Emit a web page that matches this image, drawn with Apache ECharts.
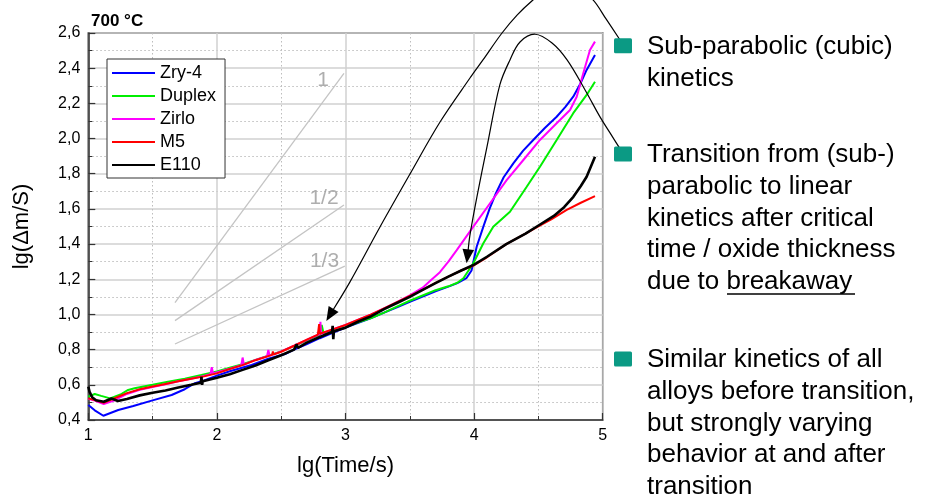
<!DOCTYPE html>
<html><head><meta charset="utf-8">
<script src="https://cdn.jsdelivr.net/npm/echarts@6/dist/echarts.min.js"></script>
<style>html,body{margin:0;padding:0;background:#fff}#c{width:925px;height:501px}</style>
</head><body><div id="c"></div>
<script>
const FONT = "'Liberation Sans', Arial, sans-serif";

// ---- data (lg(Time/s), lg(Δm/S)) ----
const seriesNames = ['Zry-4', 'Duplex', 'Zirlo', 'M5', 'E110'];
const zry4 = [[1.0,0.485],[1.05,0.455],[1.117,0.424],[1.233,0.457],[1.35,0.48],[1.493,0.51],[1.648,0.542],[1.75,0.575],[1.83,0.609],[1.9,0.625],[2.0,0.652],[2.1,0.677],[2.27,0.713],[2.4,0.748],[2.53,0.775],[2.6,0.8],[2.7,0.832],[2.8,0.865],[2.9,0.895],[3.0,0.925],[3.1,0.952],[3.2,0.98],[3.3,1.01],[3.4,1.04],[3.5,1.072],[3.6,1.102],[3.7,1.132],[3.8,1.158],[3.87,1.178],[3.94,1.206],[3.98,1.25],[4.02,1.385],[4.072,1.499],[4.12,1.6],[4.17,1.69],[4.23,1.78],[4.305,1.859],[4.38,1.93],[4.46,1.992],[4.55,2.06],[4.642,2.124],[4.71,2.18],[4.771,2.238],[4.825,2.31],[4.875,2.39],[4.94,2.475]];
const duplex = [[1.0,0.532],[1.05,0.548],[1.1,0.537],[1.17,0.523],[1.25,0.545],[1.31,0.571],[1.36,0.58],[1.42,0.589],[1.5,0.6],[1.62,0.618],[1.75,0.635],[1.88,0.656],[2.0,0.676],[2.1,0.697],[2.2,0.717],[2.3,0.742],[2.4,0.766],[2.5,0.79],[2.6,0.82],[2.7,0.853],[2.8,0.885],[2.815,0.94],[2.83,0.89],[2.9,0.905],[3.0,0.928],[3.1,0.955],[3.2,0.98],[3.3,1.01],[3.4,1.045],[3.5,1.078],[3.6,1.108],[3.7,1.138],[3.8,1.16],[3.87,1.18],[3.917,1.206],[3.994,1.291],[4.072,1.405],[4.149,1.499],[4.279,1.584],[4.409,1.726],[4.512,1.84],[4.642,1.992],[4.771,2.144],[4.875,2.248],[4.94,2.323]];
const zirlo = [[1.0,0.52],[1.05,0.51],[1.12,0.49],[1.2,0.51],[1.3,0.548],[1.4,0.572],[1.5,0.588],[1.6,0.603],[1.7,0.62],[1.8,0.635],[1.9,0.65],[1.95,0.66],[1.96,0.70],[1.97,0.665],[2.1,0.692],[2.19,0.712],[2.2,0.755],[2.21,0.715],[2.3,0.742],[2.39,0.762],[2.4,0.798],[2.41,0.766],[2.5,0.79],[2.6,0.822],[2.7,0.856],[2.8,0.888],[2.805,0.958],[2.81,0.89],[2.9,0.915],[3.0,0.94],[3.1,0.97],[3.2,1.0],[3.3,1.035],[3.4,1.07],[3.5,1.108],[3.6,1.152],[3.657,1.19],[3.734,1.24],[3.8,1.3],[3.865,1.366],[3.994,1.499],[4.124,1.632],[4.253,1.764],[4.383,1.878],[4.512,1.992],[4.642,2.087],[4.746,2.162],[4.798,2.238],[4.849,2.371],[4.901,2.503],[4.94,2.551]];
const m5 = [[1.0,0.523],[1.05,0.514],[1.12,0.498],[1.2,0.522],[1.3,0.553],[1.4,0.575],[1.5,0.59],[1.6,0.605],[1.7,0.62],[1.8,0.635],[1.9,0.648],[2.0,0.665],[2.1,0.69],[2.2,0.712],[2.3,0.74],[2.43,0.77],[2.435,0.79],[2.44,0.772],[2.5,0.788],[2.6,0.822],[2.7,0.857],[2.785,0.885],[2.795,0.945],[2.8,0.89],[2.9,0.915],[3.0,0.94],[3.1,0.97],[3.2,1.0],[3.3,1.035],[3.4,1.07],[3.5,1.105],[3.6,1.14],[3.7,1.18],[3.8,1.215],[3.9,1.25],[4.0,1.28],[4.1,1.325],[4.25,1.4],[4.4,1.46],[4.51,1.505],[4.6,1.54],[4.72,1.594],[4.83,1.635],[4.94,1.673]];
const e110 = [[1.0,0.59],[1.01,0.56],[1.03,0.53],[1.06,0.512],[1.12,0.504],[1.18,0.522],[1.23,0.508],[1.3,0.52],[1.4,0.54],[1.5,0.555],[1.6,0.568],[1.7,0.585],[1.8,0.6],[1.875,0.612],[1.88,0.645],[1.885,0.6],[1.89,0.62],[2.0,0.64],[2.1,0.66],[2.2,0.685],[2.3,0.71],[2.4,0.74],[2.5,0.768],[2.6,0.8],[2.61,0.79],[2.62,0.83],[2.63,0.81],[2.7,0.84],[2.8,0.872],[2.895,0.9],[2.9,0.935],[2.905,0.86],[2.91,0.905],[3.0,0.925],[3.1,0.96],[3.2,0.99],[3.3,1.03],[3.4,1.065],[3.5,1.1],[3.6,1.14],[3.7,1.178],[3.8,1.215],[3.9,1.25],[4.0,1.283],[4.1,1.328],[4.25,1.4],[4.4,1.46],[4.51,1.51],[4.62,1.56],[4.7,1.61],[4.772,1.669],[4.83,1.73],[4.875,1.783],[4.94,1.897]];
const seriesData = [zry4, duplex, zirlo, m5, e110];

// reference slopes
const slope1 = [[1.674,1.067],[2.988,2.371]];
const slopeHalf = [[1.674,0.965],[2.988,1.622]];
const slopeThird = [[1.674,0.832],[2.995,1.275]];
const slopeLabels = [[2.825,2.333,'1'],[2.833,1.662,'1/2'],[2.837,1.304,'1/3']];

// annotation arrows (data coordinates, from bullet to arrow tip)
const arrow1 = [[5.135,2.56],[5.026,2.68],[4.925,2.788],[4.823,2.844],[4.691,2.873],[4.559,2.844],[4.458,2.788],[4.334,2.702],[4.217,2.6],[4.069,2.447],[3.968,2.344],[3.735,2.094],[3.502,1.799],[3.268,1.497],[3.035,1.185],[2.851,0.963]];
const arrow2 = [[5.15,1.924],[5.057,2.032],[4.979,2.123],[4.863,2.276],[4.723,2.447],[4.606,2.543],[4.474,2.593],[4.357,2.549],[4.279,2.447],[4.2,2.305],[4.1,1.952],[4.022,1.668],[3.968,1.452],[3.942,1.291]];

const yTicks = {min:0.4, max:2.6, interval:0.2};
const xTicks = {min:1, max:5, interval:1};

const bulletTexts = [
  ['Sub-parabolic (cubic)', 'kinetics'],
  ['Transition from (sub-)', 'parabolic to linear', 'kinetics after critical', 'time / oxide thickness', 'due to breakaway'],
  ['Similar kinetics of all', 'alloys before transition,', 'but strongly varying', 'behavior at and after', 'transition']
];

// ---- styles ----
const colors = ['#0000ff', '#00ee00', '#ff00ff', '#ff0000', '#000000'];
const widths = [2, 2, 2, 2, 2.6];
const bulletBaselines = [55, 163.3, 368.3];
const LH = 31.7;

const chart = echarts.init(document.getElementById('c'), null, {renderer:'canvas'});

const series = seriesNames.map((n, i) => ({
  name: n, type: 'line', data: seriesData[i], symbol: 'none', showSymbol: false,
  lineStyle: {color: colors[i], width: widths[i]}, itemStyle: {color: colors[i]},
  z: 3 + i, silent: true, animation: false
}));
[slope1, slopeHalf, slopeThird].forEach(d => series.unshift({
  type: 'line', data: d, symbol: 'none', lineStyle: {color: '#c4c4c4', width: 1.3}, silent: true, z: 2, animation: false
}));
series.push({
  type: 'scatter', data: slopeLabels, symbolSize: 2, itemStyle: {color: 'rgba(255,255,255,0)'}, silent: true, animation: false, z: 2,
  label: {show: true, position: 'inside', formatter: p => p.value[2], color: '#9a9a9a', fontSize: 21, fontFamily: FONT}
});

const axisCommon = {
  axisLine: {show: true, lineStyle: {color: '#333', width: 1.5}},
  axisTick: {show: true, inside: true, length: 7, lineStyle: {color: '#333', width: 1.2}},
  minorTick: {show: true, splitNumber: 2, length: 4, lineStyle: {color: '#333', width: 1}},
  splitLine: {show: true, lineStyle: {color: '#d0d0d0', width: 1.5}},
  minorSplitLine: {show: true, lineStyle: {color: '#bdbdbd', width: 1, type: [1.5, 2.5]}},
};

chart.setOption({
  animation: false,
  backgroundColor: '#fff',
  title: {text: '700 °C', left: 91, top: 13, padding: 0, textStyle: {fontSize: 17, fontWeight: 'bold', fontFamily: FONT, color: '#000'}},
  grid: {left: 88.3, top: 33, right: 322.3, bottom: 81, show: true, borderColor: '#333', borderWidth: 1.5, containLabel: false},
  legend: {
    data: seriesNames, orient: 'vertical', left: 107, top: 59, icon: 'rect', itemWidth: 43, itemHeight: 2, itemGap: 5,
    padding: [5, 9, 4, 5], borderColor: '#333', borderWidth: 1, backgroundColor: '#fff', z: 30,
    textStyle: {fontSize: 18, fontFamily: FONT, color: '#000', lineHeight: 18}
  },
  xAxis: Object.assign({
    type: 'value', min: xTicks.min, max: xTicks.max, interval: xTicks.interval,
    name: 'lg(Time/s)', nameLocation: 'middle', nameGap: 35,
    nameTextStyle: {fontSize: 22, fontFamily: FONT, color: '#000'},
    axisLabel: {fontSize: 16, fontFamily: FONT, color: '#000', margin: 8, formatter: v => String(v)}
  }, axisCommon),
  yAxis: Object.assign({
    type: 'value', min: yTicks.min, max: yTicks.max, interval: yTicks.interval,
    name: 'lg(Δm/S)', nameLocation: 'middle', nameGap: 55,
    nameTextStyle: {fontSize: 22, fontFamily: FONT, color: '#000'},
    axisLabel: {fontSize: 16, fontFamily: FONT, color: '#000', margin: 8, formatter: v => v.toFixed(1).replace('.', ',')}
  }, axisCommon),
  series: series
});

// ---- annotations: arrows + bullet texts ----
const graphic = [];
[arrow1, arrow2].forEach(arr => {
  const pts = arr.map(p => chart.convertToPixel({gridIndex: 0}, p));
  const tip = pts[pts.length - 1], prev = pts[pts.length - 2];
  let dx = tip[0] - prev[0], dy = tip[1] - prev[1];
  const len = Math.hypot(dx, dy); dx /= len; dy /= len;
  const hl = 14, hw = 5.8;
  const bx = tip[0] - dx * hl, by = tip[1] - dy * hl;
  const linePts = pts.slice(0, -1).concat([[bx + dx * 2, by + dy * 2]]);
  graphic.push({type: 'polyline', shape: {points: linePts, smooth: 0.35}, style: {stroke: '#000', lineWidth: 1.2, fill: null}, z: 90, silent: true});
  graphic.push({type: 'polygon', shape: {points: [tip, [bx - dy * hw, by + dx * hw], [bx + dy * hw, by - dx * hw]]}, style: {fill: '#000'}, z: 91, silent: true});
});
bulletTexts.forEach((lines, i) => {
  const b = bulletBaselines[i];
  graphic.push({type: 'rect', shape: {x: 614, y: b - 16.7, width: 18, height: 15, r: 1.5}, style: {fill: '#0b9a84'}, z: 100});
  graphic.push({type: 'text', x: 647, y: b - 24, z: 100,
    style: {text: lines.join('\n'), fontSize: 26, fontFamily: FONT, lineHeight: LH, fill: '#000', verticalAlign: 'top', align: 'left'}});
});
graphic.push({type: 'line', shape: {x1: 727, y1: 294, x2: 855, y2: 294}, style: {stroke: '#000', lineWidth: 1.5}, z: 100});
chart.setOption({graphic: graphic});
</script></body></html>
